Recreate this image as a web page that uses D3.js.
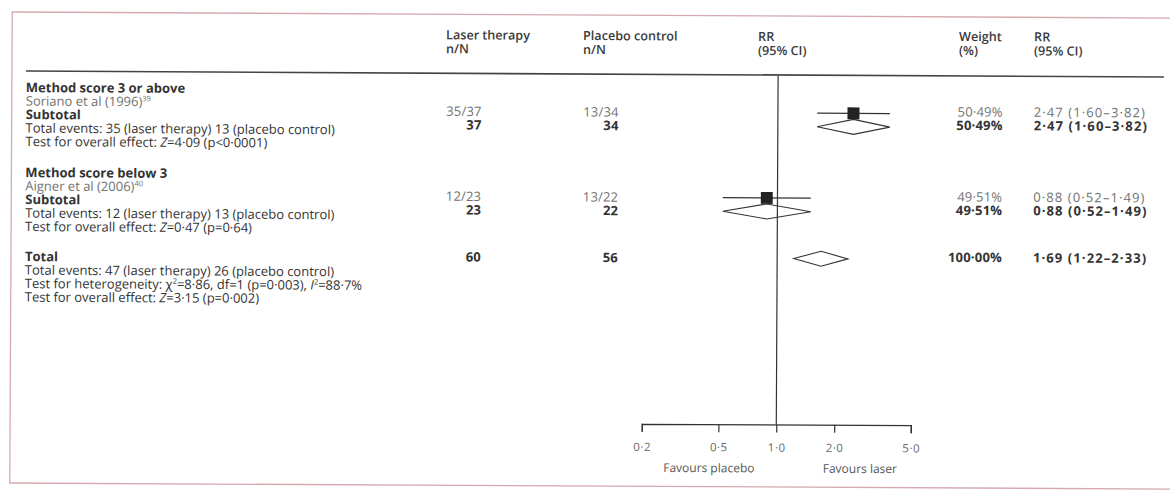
<!DOCTYPE html>
<html>
<head>
<meta charset="utf-8">
<script src="https://cdn.jsdelivr.net/npm/d3@7"></script>
<style>
  html, body { margin: 0; padding: 0; background: #ffffff; }
  svg { display: block; }
  text { font-family: "Open Sans", "Noto Sans", Lato, sans-serif; }
</style>
</head>
<body>
<svg id="chart" width="1170" height="493"></svg>
<script>
// ---------------- data ----------------
const groups = ["Method score 3 or above", "Method score below 3"];
const studies = ["Soriano et al (1996)", "Aigner et al (2006)"];
const studyRefs = ["39", "40"];
const laserEvents = [35, 12];
const laserTotal = [37, 23];
const placeboEvents = [13, 13];
const placeboTotal = [34, 22];
const studyRR = [2.47, 0.88];
const studyLow = [1.60, 0.52];
const studyHigh = [3.82, 1.49];
const studyWeight = [50.49, 49.51];

const subLaserN = [37, 23];
const subPlaceboN = [34, 22];
const subRR = [2.47, 0.88];
const subLow = [1.60, 0.52];
const subHigh = [3.82, 1.49];
const subWeight = [50.49, 49.51];
const subEventsLaser = [35, 12];
const subEventsPlacebo = [13, 13];
const subZ = ["4·09", "0·47"];
const subP = ["p<0·0001", "p=0·64"];

const totalLaserN = 60;
const totalPlaceboN = 56;
const totalRR = 1.69;
const totalLow = 1.22;
const totalHigh = 2.33;
const totalWeight = 100.00;
const totalEventsLaser = 47;
const totalEventsPlacebo = 26;
const hetChi = "8·86", hetDf = 1, hetP = "p=0·003", hetI2 = "88·7%";
const totalZ = "3·15", totalP = "p=0·002";

const tickValues = [0.2, 0.5, 1, 2, 5];
const headerLabels = [["Laser therapy", "n/N"], ["Placebo control", "n/N"], ["RR", "(95% CI)"], ["Weight", "(%)"], ["RR", "(95% CI)"]];
const favourLabels = ["Favours placebo", "Favours laser"];

// ---------------- layout ----------------
const tilt = 0.3;
const svg = d3.select("#chart");
const g = svg.append("g").attr("transform", `rotate(${tilt},585,250)`);

const dark = "#333333", light = "#717171";
const fs = 13;
const fmt = (v, d) => v.toFixed(d).replace(".", "·");
const ci = (r, l, h) => `${fmt(r, 2)} (${fmt(l, 2)}–${fmt(h, 2)})`;

const x = d3.scaleLog().domain([0.2, 5]).range([642.7, 911.7]);

const colLeft = 25;
const colLaser = 481, colPlacebo = 618, colWeight = 1002, colRR = 1033;
const headerX = [445, 582, 757, 958, 1033];
const rightDy = -2; // weight / RR columns sit slightly higher in the reference

// frame
g.append("rect").attr("x", 11).attr("y", 15).attr("width", 1200).attr("height", 471)
  .attr("fill", "none").attr("stroke", "#d6a9ae").attr("stroke-width", 1.3);

// header
headerLabels.forEach((h, i) => {
  h.forEach((t, j) => {
    g.append("text").attr("x", headerX[i]).attr("y", 40 + j * 14 + (i >= 3 ? -1 : 0))
      .attr("font-size", 12.6).attr("font-weight", 600)
      .attr("fill", "#3a3a3a").text(t);
  });
});
g.append("line").attr("x1", 25).attr("x2", 1163).attr("y1", 74).attr("y2", 74)
  .attr("stroke", "#444").attr("stroke-width", 1.6);

// helper text with parts
function addText(px, py, parts, opts = {}) {
  const t = g.append("text").attr("x", px).attr("y", py)
    .attr("font-size", fs).attr("fill", opts.fill || dark)
    .attr("font-weight", opts.weight || 400)
    .attr("letter-spacing", opts.ls != null ? opts.ls : 0)
    .attr("text-anchor", opts.anchor || "start");
  let shifted = false;
  parts.forEach(p => {
    const [s, st] = Array.isArray(p) ? p : [p, null];
    const ts = t.append("tspan").text(s);
    if (st === "sup") { ts.attr("font-size", fs * 0.58).attr("dy", -5); shifted = true; }
    else if (shifted) { ts.attr("dy", 5); shifted = false; }
    if (st === "it") ts.attr("font-style", "italic");
  });
  return t;
}

const lineH = 13.5;
const groupTop = [90.5, 175.5];
const base = 4.5; // centre -> baseline
const lsNum = 0.2, lsRR = 1.1;

groups.forEach((name, i) => {
  const y0 = groupTop[i];
  addText(colLeft, y0 + base, [name], { weight: 700 });
  addText(colLeft, y0 + lineH + base, [studies[i], [studyRefs[i], "sup"]], { fill: light });
  addText(colLeft, y0 + 2 * lineH + base, ["Subtotal"], { weight: 700 });
  addText(colLeft, y0 + 3 * lineH + base, [`Total events: ${subEventsLaser[i]} (laser therapy) ${subEventsPlacebo[i]} (placebo control)`]);
  addText(colLeft, y0 + 4 * lineH + base, ["Test for overall effect: ", ["Z", "it"], `=${subZ[i]} (${subP[i]})`]);

  const yS = y0 + 21.5;    // study data row centre
  const ySub = y0 + 35;    // subtotal data row centre
  // study numbers
  addText(colLaser, yS + base, [`${laserEvents[i]}/${laserTotal[i]}`], { fill: light, anchor: "end", ls: lsNum });
  addText(colPlacebo, yS + base, [`${placeboEvents[i]}/${placeboTotal[i]}`], { fill: light, anchor: "end", ls: lsNum });
  addText(colWeight, yS + base + rightDy, [`${fmt(studyWeight[i], 2)}%`], { fill: light, anchor: "end", ls: lsNum });
  addText(colRR, yS + base + rightDy, [ci(studyRR[i], studyLow[i], studyHigh[i])], { fill: light, ls: lsRR });
  // subtotal numbers
  addText(colLaser, ySub + base, [`${subLaserN[i]}`], { weight: 700, anchor: "end", ls: lsNum });
  addText(colPlacebo, ySub + base, [`${subPlaceboN[i]}`], { weight: 700, anchor: "end", ls: lsNum });
  addText(colWeight, ySub + base + rightDy, [`${fmt(subWeight[i], 2)}%`], { weight: 700, anchor: "end", ls: lsNum });
  addText(colRR, ySub + base + rightDy, [ci(subRR[i], subLow[i], subHigh[i])], { weight: 700, ls: lsRR });

  // study CI + square
  g.append("line").attr("x1", x(studyLow[i])).attr("x2", x(studyHigh[i]))
    .attr("y1", yS).attr("y2", yS).attr("stroke", "#333").attr("stroke-width", 1.3);
  const sz = 12 * Math.sqrt(studyWeight[i] / 50.49);
  g.append("rect").attr("x", x(studyRR[i]) - sz / 2).attr("y", yS - sz / 2)
    .attr("width", sz).attr("height", sz).attr("fill", "#232323");
  // subtotal diamond
  drawDiamond(subLow[i], subRR[i], subHigh[i], ySub);
});

function drawDiamond(lo, mid, hi, cy) {
  const hh = 7.5;
  const pts = [[x(lo), cy], [x(mid), cy - hh], [x(hi), cy], [x(mid), cy + hh]];
  g.append("path").attr("d", d3.line()(pts) + "Z")
    .attr("fill", "#fff").attr("stroke", "#333").attr("stroke-width", 1.1);
}

// total section
const yT = 259.5;
addText(colLeft, yT + base, ["Total"], { weight: 700 });
addText(colLeft, yT + lineH + base, [`Total events: ${totalEventsLaser} (laser therapy) ${totalEventsPlacebo} (placebo control)`]);
addText(colLeft, yT + 2 * lineH + base, ["Test for heterogeneity: χ", ["2", "sup"], `=${hetChi}, df=${hetDf} (${hetP}), `, ["I", "it"], ["2", "sup"], `=${hetI2}`]);
addText(colLeft, yT + 3 * lineH + base, ["Test for overall effect: ", ["Z", "it"], `=${totalZ} (${totalP})`]);
const yTd = 257.5;
addText(colLaser, yTd + base, [`${totalLaserN}`], { weight: 700, anchor: "end", ls: lsNum });
addText(colPlacebo, yTd + base, [`${totalPlaceboN}`], { weight: 700, anchor: "end", ls: lsNum });
addText(colWeight, yTd + base + rightDy, [`${fmt(totalWeight, 2)}%`], { weight: 700, anchor: "end", ls: lsNum });
addText(colRR, yTd + base + rightDy, [ci(totalRR, totalLow, totalHigh)], { weight: 700, ls: lsRR });
drawDiamond(totalLow, totalRR, totalHigh, yTd);

// reference line at RR = 1
const axisY = 423.5;
g.append("line").attr("x1", x(1)).attr("x2", x(1)).attr("y1", 75).attr("y2", axisY)
  .attr("stroke", "#333").attr("stroke-width", 1.2);

// axis
const axis = d3.axisBottom(x).tickValues(tickValues).tickSize(8).tickSizeOuter(8)
  .tickPadding(11).tickFormat(d => fmt(d, 1));
const ax = g.append("g").attr("transform", `translate(0,${axisY})`).call(axis);
ax.select(".domain").attr("stroke", "#333").attr("stroke-width", 1.3);
ax.selectAll(".tick line").attr("stroke", "#333").attr("stroke-width", 1.2);
ax.selectAll(".tick text").attr("font-size", 11.5).attr("fill", "#666").attr("letter-spacing", 0.5)
  .attr("font-family", "'Open Sans', sans-serif");

g.append("text").attr("x", 710).attr("y", axisY + 48).attr("text-anchor", "middle")
  .attr("font-size", 12).attr("fill", "#555").text(favourLabels[0]);
g.append("text").attr("x", 861).attr("y", axisY + 48).attr("text-anchor", "middle")
  .attr("font-size", 12).attr("fill", "#555").text(favourLabels[1]);
</script>
</body>
</html>
